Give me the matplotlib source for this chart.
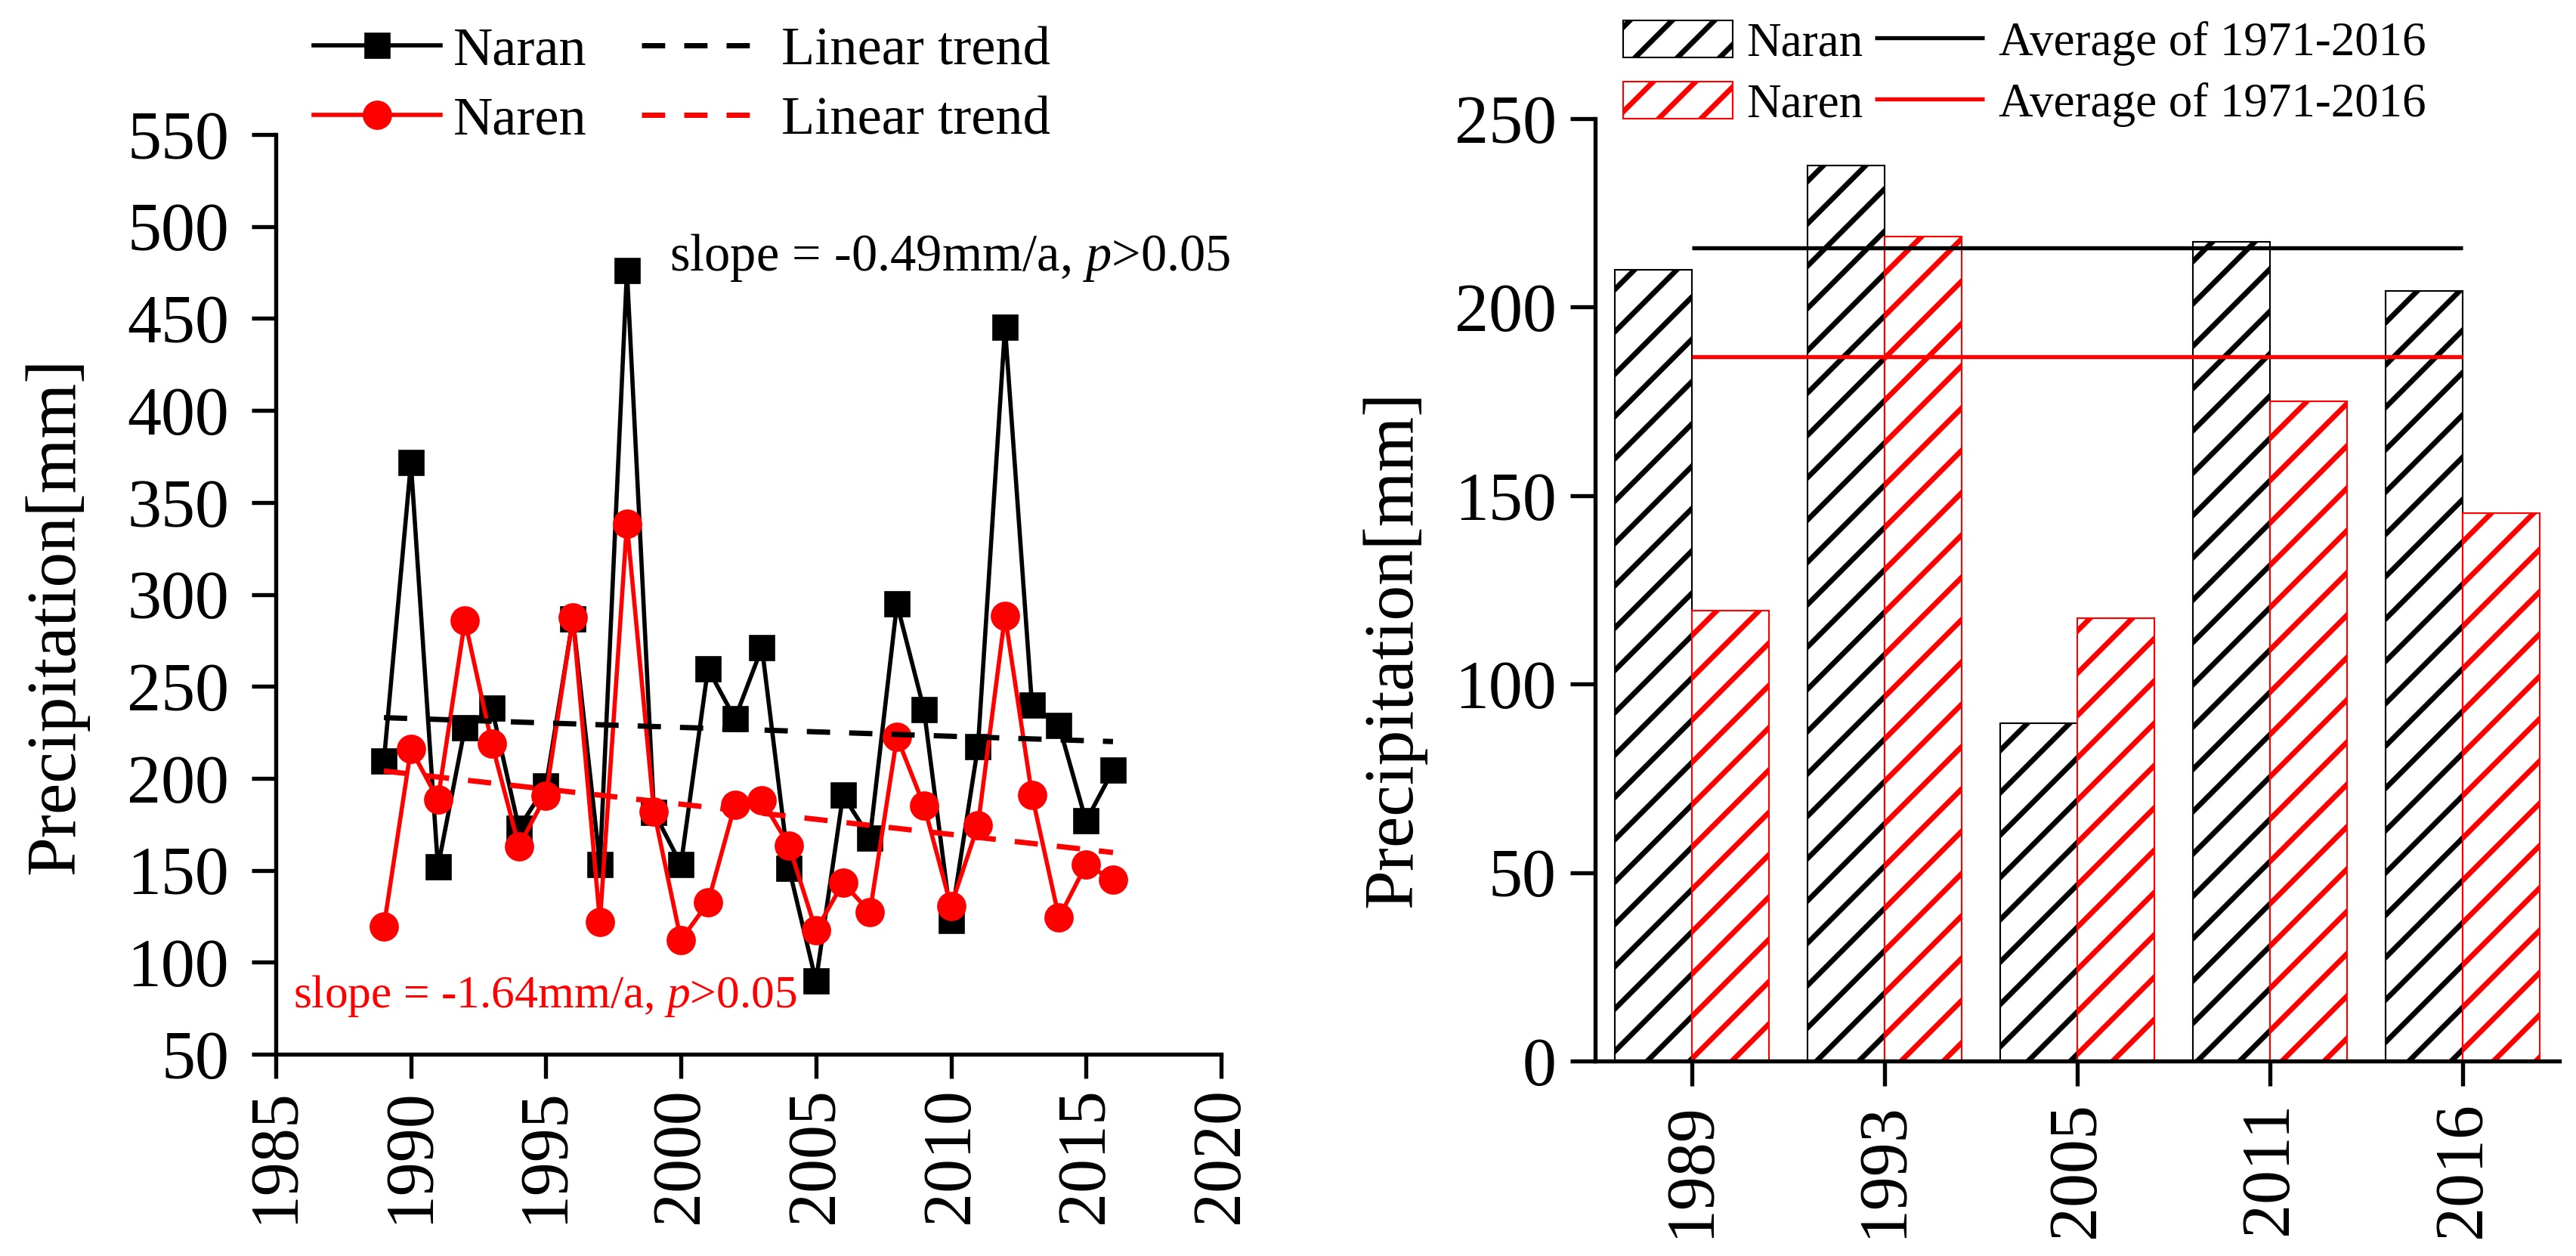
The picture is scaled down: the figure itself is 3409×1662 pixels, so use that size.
import matplotlib
matplotlib.use("Agg")
import matplotlib.pyplot as plt
import numpy as np

plt.rcParams['font.family'] = ['Liberation Serif', 'DejaVu Serif']
plt.rcParams['mathtext.fontset'] = 'custom'
plt.rcParams['mathtext.rm'] = 'Liberation Serif'
plt.rcParams['mathtext.it'] = 'Liberation Serif:italic'
plt.rcParams['hatch.linewidth'] = 1.5

# --- datos ---
anios = np.arange(1989, 2017)
naran = [209.5, 371.5, 151.8, 227.5, 238.0, 173.0, 196.0, 286.6, 153.2, 476.0,
         181.7, 153.2, 259.6, 232.5, 271.1, 151.2, 89.8, 190.8, 167.7, 294.8,
         237.4, 122.8, 217.4, 445.4, 239.8, 228.8, 176.8, 204.4]
naren = [119.5, 216.0, 188.5, 285.7, 218.8, 163.1, 190.6, 287.5, 122.1, 338.4,
         182.0, 112.0, 132.5, 185.7, 188.1, 163.5, 117.3, 143.1, 127.4, 222.4,
         185.2, 130.6, 174.5, 288.5, 190.8, 124.2, 153.0, 145.0]
# tendencias lineales (valores al inicio y al final del periodo)
tend_naran = [233.0, 220.0]
tend_naren = [204.0, 159.7]

anios_sel = ['1989', '1993', '2005', '2011', '2016']
naran_sel = [210.0, 237.6, 89.7, 217.3, 204.4]
naren_sel = [119.5, 218.7, 117.5, 175.0, 145.3]
media_naran = 215.8
media_naren = 186.9

W, H, DPI = 3409, 1662, 336
fig = plt.figure(figsize=(W / DPI, H / DPI), dpi=DPI)

# ---------------- panel izquierdo ----------------
ax1 = fig.add_axes([0.1071, 0.1606, 0.3669, 0.7323])
l1, = ax1.plot(anios, naran, color='black', lw=1.2, marker='s', ms=6.3, label='Naran', zorder=3)
l2, = ax1.plot(anios, naren, color='red', lw=1.2, marker='o', ms=7.3, label='Naren', zorder=4)
ext = [anios[0], anios[-1]]
t1, = ax1.plot(ext, tend_naran, color='black', lw=1.5, dashes=[4.4, 3.6], label='Linear trend', zorder=5)
t2, = ax1.plot(ext, tend_naren, color='red', lw=1.5, dashes=[4.4, 3.6], label='Linear trend', zorder=5)

ax1.set_xlim(1985, 2020)
ax1.set_ylim(50, 550)
ax1.set_xticks(np.arange(1985, 2021, 5))
ax1.set_yticks(np.arange(50, 551, 50))
ax1.tick_params(axis='x', labelrotation=90, pad=2.6)
ax1.tick_params(axis='y', pad=6.4)
ax1.tick_params(direction='out', length=6.9, width=1.15, labelsize=19.3)
for s in ['top', 'right']:
    ax1.spines[s].set_visible(False)
for s in ['left', 'bottom']:
    ax1.spines[s].set_linewidth(1.15)

ax1.text(1999.58, 476, 'slope = -0.49mm/a, $p$>0.05', fontsize=14.7,
         color='black', ha='left', va='baseline')
ax1.text(1985.64, 75.5, 'slope = -1.64mm/a, $p$>0.05', fontsize=13.2,
         color='red', ha='left', va='baseline')

ax1.legend(handles=[l1, l2, t1, t2], ncol=2, loc='upper left',
           bbox_to_anchor=(0.1217, 0.979), bbox_transform=fig.transFigure,
           frameon=False, fontsize=15.5, borderpad=0, borderaxespad=0,
           handlelength=2.32, handletextpad=0.24, columnspacing=1.0,
           labelspacing=0.36)

fig.text(0.022, 0.510, 'Precipitation[mm]', rotation=90, fontsize=20,
         ha='center', va='center')

# ---------------- panel derecho ----------------
ax2 = fig.add_axes([0.6193, 0.1552, 0.3742, 0.7503])
x = np.arange(len(anios_sel))
ancho = 0.4
b1 = ax2.bar(x, naran_sel, width=-ancho, align='edge', facecolor='white',
             edgecolor='black', linewidth=0.45, hatch='//', label='Naran', zorder=2)
b2 = ax2.bar(x, naren_sel, width=ancho, align='edge', facecolor='white',
             edgecolor='red', linewidth=0.45, hatch='//', label='Naren', zorder=2)
m1 = ax2.hlines(media_naran, x[0], x[-1], color='black', lw=1.15,
                label='Average of 1971-2016', zorder=4)
m2 = ax2.hlines(media_naren, x[0], x[-1], color='red', lw=1.15,
                label='Average of 1971-2016', zorder=4)

ax2.set_xlim(-0.5, 4.5)
ax2.set_ylim(0, 250)
ax2.set_xticks(x)
ax2.set_xticklabels(anios_sel)
ax2.set_yticks(np.arange(0, 251, 50))
ax2.tick_params(axis='x', labelrotation=90, pad=4.5)
ax2.tick_params(axis='y', pad=4)
ax2.tick_params(direction='out', length=7.0, width=1.15, labelsize=19.3)
for s in ['top', 'right']:
    ax2.spines[s].set_visible(False)
for s in ['left', 'bottom']:
    ax2.spines[s].set_linewidth(1.15)

ax2.legend(handles=[b1, b2, m1, m2], ncol=2, loc='upper left',
           bbox_to_anchor=(0.630, 0.984), bbox_transform=fig.transFigure,
           frameon=False, fontsize=13.5, borderpad=0, borderaxespad=0,
           handlelength=2.3, handleheight=0.83, handletextpad=0.3,
           columnspacing=0.24, labelspacing=0.33)

fig.text(0.541, 0.483, 'Precipitation[mm]', rotation=90, fontsize=20,
         ha='center', va='center')

fig.savefig('out.png', dpi=DPI)
